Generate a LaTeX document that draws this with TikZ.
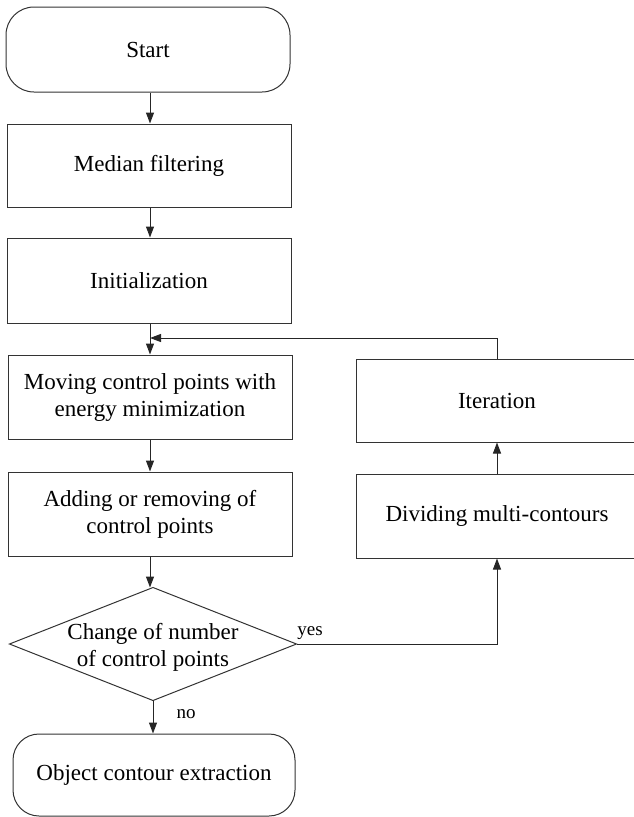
\documentclass[tikz,border=0pt]{standalone}
\usepackage{fontspec}
\setmainfont{Liberation Serif}
\usetikzlibrary{arrows.meta}
\begin{document}
\begin{tikzpicture}[x=1pt,y=-1pt,
  line width=1pt,
  every node/.style={inner sep=0pt, align=center, font=\fontsize{23}{27}\selectfont},
  box/.style={draw=black!80, rectangle, minimum width=284pt, minimum height=84pt},
  rbox/.style={draw=black!80, rectangle, rounded corners=28pt, minimum width=284pt, minimum height=84pt},
  lbl/.style={font=\fontsize{19}{22}\selectfont},
  arr/.style={draw=black!85, -{Triangle[length=11pt,width=8pt]}},
  ln/.style={draw=black!85}
]
\useasboundingbox (0,0) rectangle (634,817);
\node[rbox, minimum width=284pt, minimum height=85pt] (start) at (148,49.5) {Start};
\node[box, minimum height=83pt] (med) at (149,165.5) {Median filtering};
\node[box, minimum height=85pt] (init) at (149,280.5) {Initialization};
\node[box] (mov) at (150,397) {Moving control points with\\energy minimization};
\node[box] (add) at (150,514) {Adding or removing of\\control points};
\node[minimum width=286pt, minimum height=112pt] (dec) at (153,644) {};
\node at (153,647) {Change of number\\of control points};
\draw[black!80] (dec.north) -- (dec.east) -- (dec.south) -- (dec.west) -- cycle;
\node[rbox, minimum width=282pt, minimum height=82pt, rounded corners=26pt] (obj) at (154,775) {Object contour extraction};
\node[box, minimum width=282pt, minimum height=83pt] (iter) at (497,400.5) {Iteration};
\node[box, minimum width=282pt, minimum height=84pt] (div) at (497,516) {Dividing multi-contours};
\coordinate (fb) at (150,338);
\node[lbl] (yes) at (310,633) {yes};
\node[lbl] (no) at (186,714) {no};
\draw[arr] (start.south -| 150,0) -- (med.north -| 150,0);
\draw[arr] (med.south -| 150,0) -- (init.north -| 150,0);
\draw[arr] (init.south -| 150,0) -- (mov.north);
\draw[arr] (mov.south) -- (add.north);
\draw[arr] (add.south) -- (add.south |- dec.north);
\draw[arr] (dec.south) -- (dec.south |- obj.north);
\draw[arr] (dec.east) -| (div.south);
\draw[arr] (div.north) -- (iter.south);
\draw[arr] (iter.north) |- (fb);
\end{tikzpicture}
\end{document}
